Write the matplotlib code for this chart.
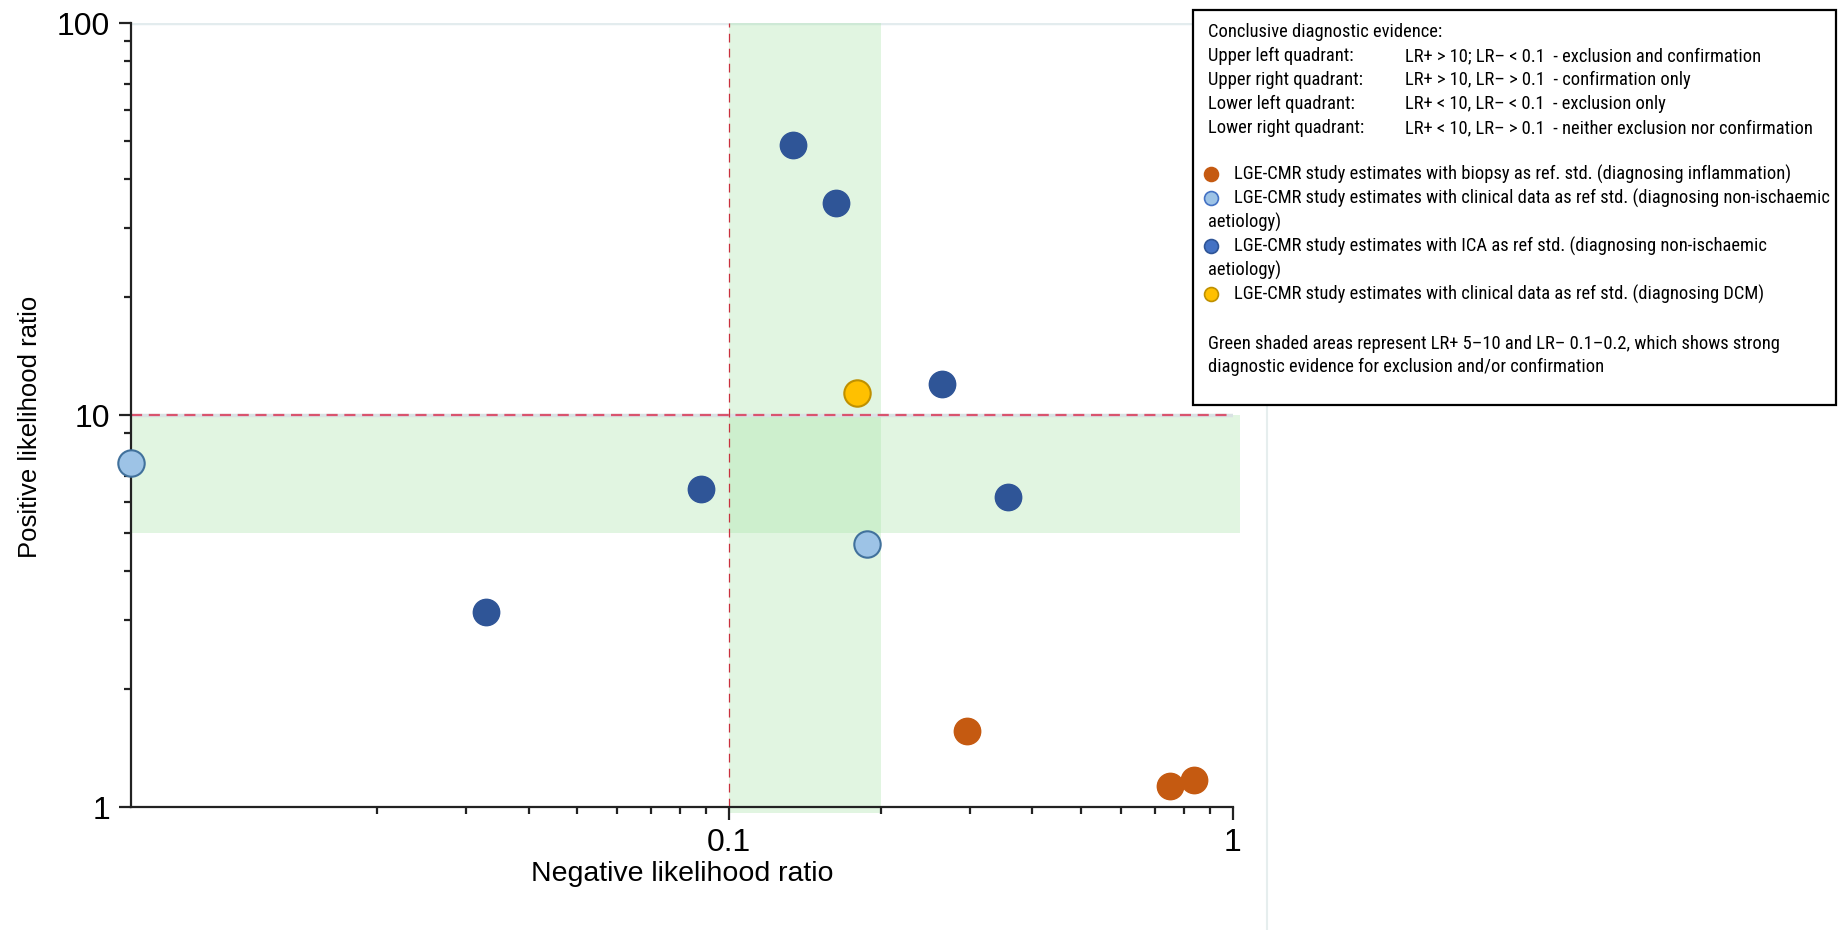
import matplotlib
matplotlib.use("Agg")
import matplotlib.pyplot as plt
from matplotlib import font_manager
from matplotlib.patches import Rectangle
from matplotlib.lines import Line2D

# ---- data ----
biopsy_lrneg = [0.297, 0.749, 0.836]
biopsy_lrpos = [1.56, 1.13, 1.17]

clinical_lrneg = [0.0065, 0.188]
clinical_lrpos = [7.55, 4.69]

ica_lrneg = [0.134, 0.163, 0.265, 0.088, 0.357, 0.0329]
ica_lrpos = [48.9, 34.9, 12.0, 6.5, 6.17, 3.14]

dcm_lrneg = [0.179]
dcm_lrpos = [11.4]

x_major = [0.1, 1]
x_major_labels = ["0.1", "1"]
x_minor = [0.02, 0.03, 0.04, 0.05, 0.06, 0.07, 0.08, 0.09,
           0.2, 0.3, 0.4, 0.5, 0.6, 0.7, 0.8, 0.9]
y_major = [1, 10, 100]
y_major_labels = ["1", "10", "100"]
y_minor = [2, 3, 4, 5, 6, 7, 8, 9, 20, 30, 40, 50, 60, 70, 80, 90]

legend_labels = [
    "LGE-CMR study estimates with biopsy as ref. std. (diagnosing inflammation)",
    "LGE-CMR study estimates with clinical data as ref std. (diagnosing non-ischaemic\naetiology)",
    "LGE-CMR study estimates with ICA as ref std. (diagnosing non-ischaemic\naetiology)",
    "LGE-CMR study estimates with clinical data as ref std. (diagnosing DCM)",
]
quadrant_names = ["Upper left quadrant:", "Upper right quadrant:",
                  "Lower left quadrant:", "Lower right quadrant:"]
quadrant_rules = ["LR+ > 10; LR\u2013 < 0.1  - exclusion and confirmation",
                  "LR+ > 10, LR\u2013 > 0.1  - confirmation only",
                  "LR+ < 10, LR\u2013 < 0.1  - exclusion only",
                  "LR+ < 10, LR\u2013 > 0.1  - neither exclusion nor confirmation"]

W, H = 1838, 930
plt.rcParams['font.family'] = ['Liberation Sans', 'DejaVu Sans']
fig = plt.figure(figsize=(W / 100, H / 100), dpi=100)

ax_l, ax_r, ax_t, ax_b = 131, 1233, 23.5, 807
ax = fig.add_axes([ax_l / W, 1 - ax_b / H, (ax_r - ax_l) / W, (ax_b - ax_t) / H])
ax.set_xscale('log')
ax.set_yscale('log')
ax.set_xlim(0.0065, 1)
ax.set_ylim(1, 100)

green = '#A8E4A8'
ax.axvspan(0.1, 0.2, ymin=-0.008, ymax=1, color=green, alpha=0.34, lw=0, zorder=0.5, clip_on=False)
ax.axhspan(5, 10, xmin=0, xmax=1.006, color=green, alpha=0.34, lw=0, zorder=0.5, clip_on=False)

ax.axhline(100, color='#E3ECEE', lw=2.5, zorder=0.4)
ax.axhline(10, color='#D9E2E4', lw=2.5, zorder=0.6)
ax.axhline(10, color='#D9546E', lw=1.6, ls=(0, (5, 3)), zorder=1)
ax.axvline(0.1, color='#C9303E', lw=0.9, ls=(0, (7, 5)), zorder=1)

ms = 19
ax.plot(biopsy_lrneg, biopsy_lrpos, 'o', ms=ms, color='#C55A11', mec='#C55A11', mew=1, zorder=3, clip_on=False)
ax.plot(clinical_lrneg, clinical_lrpos, 'o', ms=ms, color='#9DC3E6', mec='#41719C', mew=1.5, zorder=3, clip_on=False)
ax.plot(ica_lrneg, ica_lrpos, 'o', ms=ms, color='#2F5597', mec='#2F5597', mew=1, zorder=3, clip_on=False)
ax.plot(dcm_lrneg, dcm_lrpos, 'o', ms=ms, color='#FFC000', mec='#BF9000', mew=1.5, zorder=3, clip_on=False)

ax.set_xticks(x_major)
ax.set_xticklabels(x_major_labels)
ax.set_xticks(x_minor, minor=True)
ax.set_xticklabels([], minor=True)
ax.set_yticks(y_major)
ax.set_yticklabels(y_major_labels)
ax.set_yticks(y_minor, minor=True)
ax.set_yticklabels([], minor=True)

for s in ['top', 'right']:
    ax.spines[s].set_visible(False)
for s in ['left', 'bottom']:
    ax.spines[s].set_linewidth(1.6)
    ax.spines[s].set_color('#222222')
ax.tick_params(which='major', length=9, width=1.6, color='#222222', labelsize=23, pad=6)
ax.tick_params(which='minor', length=5, width=1.6, color='#222222')

ax.set_xlabel("Negative likelihood ratio", fontsize=20.5, labelpad=2)
ax.set_ylabel("Positive likelihood ratio", fontsize=18.5)
ax.yaxis.set_label_coords(-0.081, 0.485)

# faint panel separator
fig.add_artist(Line2D([1267 / W, 1267 / W], [0, 1 - 405 / H], color='#E6EEEE', lw=1.5))

# ---- custom legend box ----
box = Rectangle((1193 / W, 1 - 405 / H), (1836 - 1193) / W, (405 - 10) / H,
                transform=fig.transFigure, fill=True, facecolor='white',
                edgecolor='black', lw=1.6, zorder=5)
fig.add_artist(box)

# pick a narrow font if one is installed, then fit the size to the reference text width
installed = {f.name for f in font_manager.fontManager.ttflist}
narrow = [n for n in ['Liberation Sans Narrow', 'Arial Narrow', 'Roboto Condensed',
                      'Open Sans Condensed'] if n in installed]
fam = narrow[:1] + ['Liberation Sans', 'DejaVu Sans']
probe = fig.text(0, 0, "Conclusive diagnostic evidence:", fontsize=13, family=fam)
fig.canvas.draw()
pw = probe.get_window_extent().width
probe.remove()
fs = 13 * 233.0 / pw

def ftext(x, y, s):
    fig.text(x / W, 1 - y / H, s, fontsize=fs, family=fam, va='baseline', ha='left', zorder=6)

ftext(1208, 37, "Conclusive diagnostic evidence:")
for i, (n, r) in enumerate(zip(quadrant_names, quadrant_rules)):
    y = 61 + i * 24
    ftext(1208, y, n)
    ftext(1405, y, r)

leg_colors = [('#C55A11', '#C55A11'), ('#9DC3E6', '#4472C4'), ('#4472C4', '#2F5597'), ('#FFC000', '#BF9000')]
leg_y = [174, 198, 246, 294]
for (fc, ec), y, lab in zip(leg_colors, leg_y, legend_labels):
    fig.add_artist(Line2D([1211 / W], [1 - y / H], marker='o', ms=10, color=fc, mec=ec, mew=1.2, zorder=6))
    parts = lab.split("\n")
    ftext(1234, y + 6, parts[0])
    if len(parts) > 1:
        ftext(1208, y + 24 + 6, parts[1])

ftext(1208, 348.5, "Green shaded areas represent LR+ 5\u201310 and LR\u2013 0.1\u20130.2, which shows strong")
ftext(1208, 372, "diagnostic evidence for exclusion and/or confirmation")

fig.savefig("out.png", dpi=100)
